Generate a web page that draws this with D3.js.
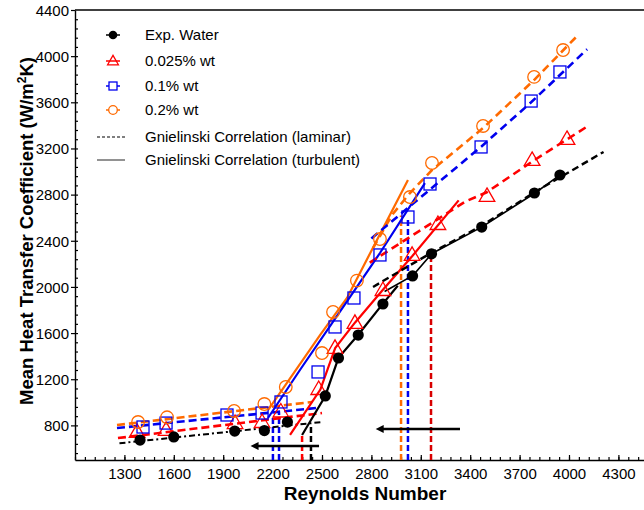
<!DOCTYPE html>
<html>
<head>
<meta charset="utf-8">
<script src="https://cdn.jsdelivr.net/npm/d3@7"></script>
<style>
body { margin: 0; background: #fff; }
text { font-family: "Liberation Sans", Arial, sans-serif; fill: #000; }
</style>
</head>
<body>
<div class="chart"></div>
<script>
// values: [Reynolds number, h (W/m2K)]
var waterPts = [[1395, 673], [1600, 700], [1970, 751], [2150, 755], [2290, 829], [2520, 1055], [2600, 1384],
    [2720, 1583], [2870, 1852], [3050, 2095], [3165, 2287], [3470, 2519], [3790, 2814], [3945, 2970]];
var redPts = [[1377, 743], [1553, 760], [1972, 820], [2136, 829], [2250, 920], [2480, 1115], [2579, 1471],
    [2700, 1688], [2870, 1973], [3047, 2277], [3204, 2545], [3502, 2788], [3776, 3100], [3988, 3282]];
var bluePts = [[1413, 786], [1553, 820], [1923, 890], [2136, 907], [2251, 1003], [2476, 1263], [2579, 1653],
    [2694, 1904], [2852, 2277], [3022, 2606], [3156, 2892], [3466, 3213], [3770, 3611], [3945, 3863]];
var orangePts = [[1383, 829], [1559, 870], [1966, 925], [2150, 985], [2280, 1133], [2500, 1427], [2567, 1783],
    [2712, 2055], [2852, 2415], [3034, 2779], [3168, 3074], [3478, 3395], [3788, 3820], [3964, 4053]];

// laminar fits (dashed)
var waterLam = [[1270, 645], [2506, 830]];
var redLam = [[1261, 690], [2500, 907]];
var blueLam = [[1255, 777], [2470, 951]];
var orangeLam = [[1255, 803], [2440, 1003]];

// transition fits (solid)
var waterTrans = [[2379, 717], [2520, 1055], [2600, 1385], [2720, 1585], [2870, 1855], [2960, 2010]];
var redTrans = [[2306, 717], [2490, 1110], [2580, 1470], [2700, 1690], [2870, 1975], [3050, 2270], [3330, 2750]];
var blueTrans = [[2172, 864], [2366, 1280], [2658, 1887], [2852, 2294], [3125, 2900]];
var orangeTrans = [[2172, 933], [2245, 1081], [2488, 1583], [2652, 1904], [3022, 2927]];

// turbulent fits (dashed) and Gnielinski turbulent for water (solid)
var waterTurb = [[2810, 2000], [3000, 2160], [3170, 2300], [3470, 2530], [3790, 2820], [4210, 3170]];
var waterGn = [[2880, 1960], [3053, 2100], [3168, 2290], [3472, 2520], [3794, 2814], [3950, 2975]];
var redTurb = [[2790, 2210], [3370, 2740], [3500, 2820], [3780, 3090], [4110, 3390]];
var blueTurb = [[2800, 2420], [3370, 3100], [3470, 3220], [3770, 3600], [4110, 4060]];
var orangeTurb = [[2810, 2337], [2925, 2623], [3034, 2814], [3168, 3013], [3478, 3377], [3788, 3793], [4055, 4183]];

// critical Reynolds markers: [Re, top h, colour]
var critLines = [[2433, 803, "black"], [2379, 717, "red"], [2202, 864, "blue"], [2239, 907, "blue"],
    [2980, 2620, "orange"], [3022, 2606, "blue"], [3162, 2290, "darkred"]];
// arrows: [Re from, Re to, h]
var arrows = [[2482, 2105, 621], [3338, 2865, 769]];

var xTicks = [1300, 1600, 1900, 2200, 2500, 2800, 3100, 3400, 3700, 4000, 4300];
var yTicks = [800, 1200, 1600, 2000, 2400, 2800, 3200, 3600, 4000, 4400];

var colors = { black: "#000", red: "#ff0000", blue: "#0000ee", orange: "#ff6a00", darkred: "#d80000" };

var svgWidth = 644, svgHeight = 510;
var margin = { top: 10, left: 75 };

var svg = d3.select(".chart").append("svg")
    .attr("width", svgWidth)
    .attr("height", svgHeight);

var x = d3.scaleLinear().domain([1000, 4500]).range([margin.left, margin.left + 3500 / 300 * 49.4]);
var y = d3.scaleLinear().domain([500, 4400]).range([460, margin.top]);

var line = d3.line().x(d => x(d[0])).y(d => y(d[1]));

// axes
var minorX = d3.range(1000, 4501, 60);
var minorY = d3.range(560, 4400, 80);

svg.append("g")
    .attr("transform", `translate(0, ${y(500)})`)
    .call(d3.axisBottom(x).tickValues(minorX).tickSize(-3).tickFormat("").tickSizeOuter(0))
    .call(g => g.select(".domain").remove());
var xAxis = svg.append("g")
    .attr("transform", `translate(0, ${y(500)})`)
    .call(d3.axisBottom(x).tickValues(xTicks).tickSize(-5).tickSizeOuter(0).tickPadding(8).tickFormat(d3.format("d")));

svg.append("g")
    .attr("transform", `translate(${x(1000)}, 0)`)
    .call(d3.axisLeft(y).tickValues(minorY).tickSize(-3).tickFormat("").tickSizeOuter(0))
    .call(g => g.select(".domain").remove());
var yAxis = svg.append("g")
    .attr("transform", `translate(${x(1000)}, 0)`)
    .call(d3.axisLeft(y).tickValues(yTicks).tickSize(4).tickSizeOuter(0).tickPadding(2).tickFormat(d3.format("d")));

svg.selectAll(".tick line").attr("stroke", "#000").attr("stroke-width", 1.2);
svg.selectAll(".domain").attr("stroke", "#000").attr("stroke-width", 1.4);
svg.selectAll(".tick text").style("font-size", "15px").style("font-family", "'Liberation Sans', Arial, sans-serif");
xAxis.selectAll(".tick text").attr("dy", "0.71em");
yAxis.selectAll(".tick text").attr("dy", "0.35em");

// top frame
svg.append("line")
    .attr("x1", x(1000)).attr("x2", x(4500))
    .attr("y1", y(4400)).attr("y2", y(4400))
    .attr("stroke", "#000").attr("stroke-width", 1.4);

// critical Re verticals
svg.selectAll(".crit")
    .data(critLines)
    .enter()
    .append("line")
    .attr("x1", d => x(d[0])).attr("x2", d => x(d[0]))
    .attr("y1", y(500)).attr("y2", d => y(d[1]))
    .attr("stroke", d => colors[d[2]])
    .attr("stroke-width", 2.5)
    .attr("stroke-dasharray", "6,3");

// fitted lines
function drawLine(data, color, width, dash) {
    svg.append("path")
        .datum(data)
        .attr("d", line)
        .attr("fill", "none")
        .attr("stroke", color)
        .attr("stroke-width", width)
        .attr("stroke-dasharray", dash);
}

drawLine(waterLam, colors.black, 2, "6,3,2,3");
drawLine(redLam, colors.red, 2.6, "8,4");
drawLine(blueLam, colors.blue, 2.6, "8,4");
drawLine(orangeLam, colors.orange, 2.6, "8,4");

drawLine(orangeTrans, colors.orange, 2.2, null);
drawLine(blueTrans, colors.blue, 2.2, null);
drawLine(redTrans, colors.red, 2.2, null);
drawLine(waterTrans, colors.black, 2.2, null);

drawLine(orangeTurb, colors.orange, 2.6, "8,5");
drawLine(blueTurb, colors.blue, 2.6, "8,5");
drawLine(redTurb, colors.red, 2.6, "8,5");
drawLine(waterGn, colors.black, 1.6, null);
drawLine(waterTurb, colors.black, 2.4, "7,4");

// arrows
svg.append("defs").append("marker")
    .attr("id", "head")
    .attr("viewBox", "0 0 10 10")
    .attr("refX", 2).attr("refY", 5)
    .attr("markerWidth", 4).attr("markerHeight", 3.2)
    .attr("orient", "auto")
    .append("path")
    .attr("d", "M0,0 L10,5 L0,10 z")
    .attr("fill", "#000");

svg.selectAll(".arrow")
    .data(arrows)
    .enter()
    .append("line")
    .attr("x1", d => x(d[0])).attr("x2", d => x(d[1]))
    .attr("y1", d => y(d[2])).attr("y2", d => y(d[2]))
    .attr("stroke", "#000")
    .attr("stroke-width", 2.5)
    .attr("marker-end", "url(#head)");

// markers
function triPath(cx, cy, s) {
    return `M${cx},${cy - s * 0.62} L${cx + s * 0.6},${cy + s * 0.42} L${cx - s * 0.6},${cy + s * 0.42} Z`;
}

svg.selectAll(".tri")
    .data(redPts)
    .enter()
    .append("path")
    .attr("d", d => triPath(x(d[0]), y(d[1]), 13))
    .attr("fill", "none")
    .attr("stroke", colors.red)
    .attr("stroke-width", 1.3);

svg.selectAll(".sq")
    .data(bluePts)
    .enter()
    .append("rect")
    .attr("x", d => x(d[0]) - 6).attr("y", d => y(d[1]) - 6)
    .attr("width", 12).attr("height", 12)
    .attr("fill", "none")
    .attr("stroke", colors.blue)
    .attr("stroke-width", 1.3);

svg.selectAll(".oc")
    .data(orangePts)
    .enter()
    .append("circle")
    .attr("cx", d => x(d[0])).attr("cy", d => y(d[1]))
    .attr("r", 6.3)
    .attr("fill", "none")
    .attr("stroke", colors.orange)
    .attr("stroke-width", 1.3);

svg.selectAll(".wc")
    .data(waterPts)
    .enter()
    .append("circle")
    .attr("cx", d => x(d[0])).attr("cy", d => y(d[1]))
    .attr("r", 5.6)
    .attr("fill", "#000");

// legend
var legendItems = [
    { label: "Exp. Water", type: "dot", color: colors.black },
    { label: "0.025% wt", type: "tri", color: colors.red },
    { label: "0.1% wt", type: "sq", color: colors.blue },
    { label: "0.2% wt", type: "circ", color: colors.orange },
    { label: "Gnielinski Correlation (laminar)", type: "dash", color: "#000" },
    { label: "Gnielinski Correlation (turbulent)", type: "solid", color: "#777" }
];
var legendY = [35, 61, 86, 110, 137, 160];

legendItems.forEach(function (item, i) {
    var g = svg.append("g").attr("transform", `translate(113, ${legendY[i]})`);
    if (item.type === "dash" || item.type === "solid") {
        g.append("line").attr("x1", -16).attr("x2", 12)
            .attr("stroke", item.color)
            .attr("stroke-width", item.type === "dash" ? 1.2 : 1.6)
            .attr("stroke-dasharray", item.type === "dash" ? "3,2" : null);
    } else {
        g.append("line").attr("x1", -7).attr("x2", 7).attr("stroke", item.color).attr("stroke-width", 1.5);
        if (item.type === "dot") g.append("circle").attr("r", 4.3).attr("fill", item.color);
        if (item.type === "tri") g.append("path").attr("d", triPath(0, 0, 9)).attr("fill", "none").attr("stroke", item.color).attr("stroke-width", 1.3);
        if (item.type === "sq") g.append("rect").attr("x", -4).attr("y", -4).attr("width", 8).attr("height", 8).attr("fill", "#fff").attr("stroke", item.color).attr("stroke-width", 1.3);
        if (item.type === "circ") g.append("circle").attr("r", 4.3).attr("fill", "#fff").attr("stroke", item.color).attr("stroke-width", 1.3);
    }
    g.append("text")
        .attr("x", 32).attr("dy", "0.35em")
        .style("font-size", "15px")
        .text(item.label);
});

// axis titles
svg.append("text")
    .attr("x", 365).attr("y", 500)
    .attr("text-anchor", "middle")
    .style("font-size", "19px").style("font-weight", "bold")
    .text("Reynolds Number");

var yTitle = svg.append("text")
    .attr("transform", "translate(33, 231) rotate(-90)")
    .attr("text-anchor", "middle")
    .style("font-size", "18.5px").style("font-weight", "bold");
yTitle.append("tspan").text("Mean Heat Transfer Coefficient (W/m");
yTitle.append("tspan").attr("dy", -7).style("font-size", "12px").text("2");
yTitle.append("tspan").attr("dy", 7).text("K)");
</script>
</body>
</html>
